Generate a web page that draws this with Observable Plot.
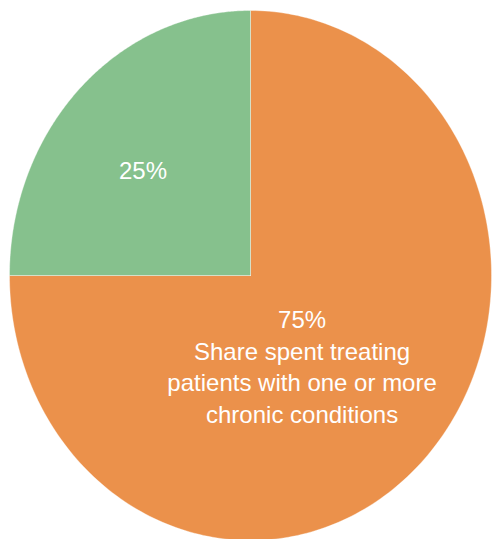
<!DOCTYPE html>
<html>
<head>
<meta charset="utf-8">
<script src="https://cdn.jsdelivr.net/npm/d3@7"></script>
<script src="https://cdn.jsdelivr.net/npm/@observablehq/plot@0.6"></script>
<style>
  html, body { margin: 0; padding: 0; background: #fff; }
  #chart svg { display: block; }
</style>
</head>
<body>
<div id="chart"></div>
<script>
// Data
const categories = ["Chronic conditions", "Other"];
const values = [75, 25];
const colors = ["#eb914b", "#86c18d"];
const labels = [
  ["75%", "Share spent treating", "patients with one or more", "chronic conditions"],
  ["25%"]
];

// Build slice outlines from the values (clockwise from 12 o'clock)
const total = d3.sum(values);
let acc = 0;
const slices = values.map((v, i) => {
  const a0 = acc / total * 2 * Math.PI;
  acc += v;
  const a1 = acc / total * 2 * Math.PI;
  const pts = [{x: 0, y: 0}];
  const n = 240;
  for (let k = 0; k <= n; k++) {
    const t = a0 + (a1 - a0) * k / n;
    pts.push({x: Math.sin(t), y: Math.cos(t)});
  }
  pts.push({x: 0, y: 0});
  return {cat: categories[i], color: colors[i], pts, mid: (a0 + a1) / 2};
});

// label anchors from slice mid-angle
const labelRadius = [0.42, 0.59];
const labelRows = [];
slices.forEach((s, i) => {
  const r = labelRadius[i];
  const lines = labels[i];
  labelRows.push({
    x: Math.sin(s.mid) * r,
    y: Math.cos(s.mid) * r,
    text: lines.join("\n"),
    n: lines.length,
    i
  });
});

const marks = [];
slices.forEach(s => {
  marks.push(Plot.line(s.pts, {x: "x", y: "y", fill: s.color, stroke: "#ffffff", strokeWidth: 0.6, strokeOpacity: 0.6, curve: "linear"}));
});
marks.push(Plot.text(labelRows.filter(d => d.i === 0), {
  x: "x", y: "y", text: "text", fill: "#ffffff", fontSize: 24,
  lineHeight: 1.32, dx: -20, dy: 11, textAnchor: "middle", lineAnchor: "middle"
}));
marks.push(Plot.text(labelRows.filter(d => d.i === 1), {
  x: "x", y: "y", text: "text", fill: "#ffffff", fontSize: 24,
  dx: -7, dy: 6, textAnchor: "middle", lineAnchor: "middle"
}));

const chart = Plot.plot({
  width: 492,
  height: 539,
  margin: 0,
  style: {fontFamily: "'Liberation Sans', Arial, Helvetica, sans-serif", background: "#fff"},
  x: {domain: [-1, 1], range: [9, 491], axis: null},
  y: {domain: [-1, 1], range: [540, 10], axis: null},
  marks
});
document.getElementById("chart").append(chart);
</script>
</body>
</html>
